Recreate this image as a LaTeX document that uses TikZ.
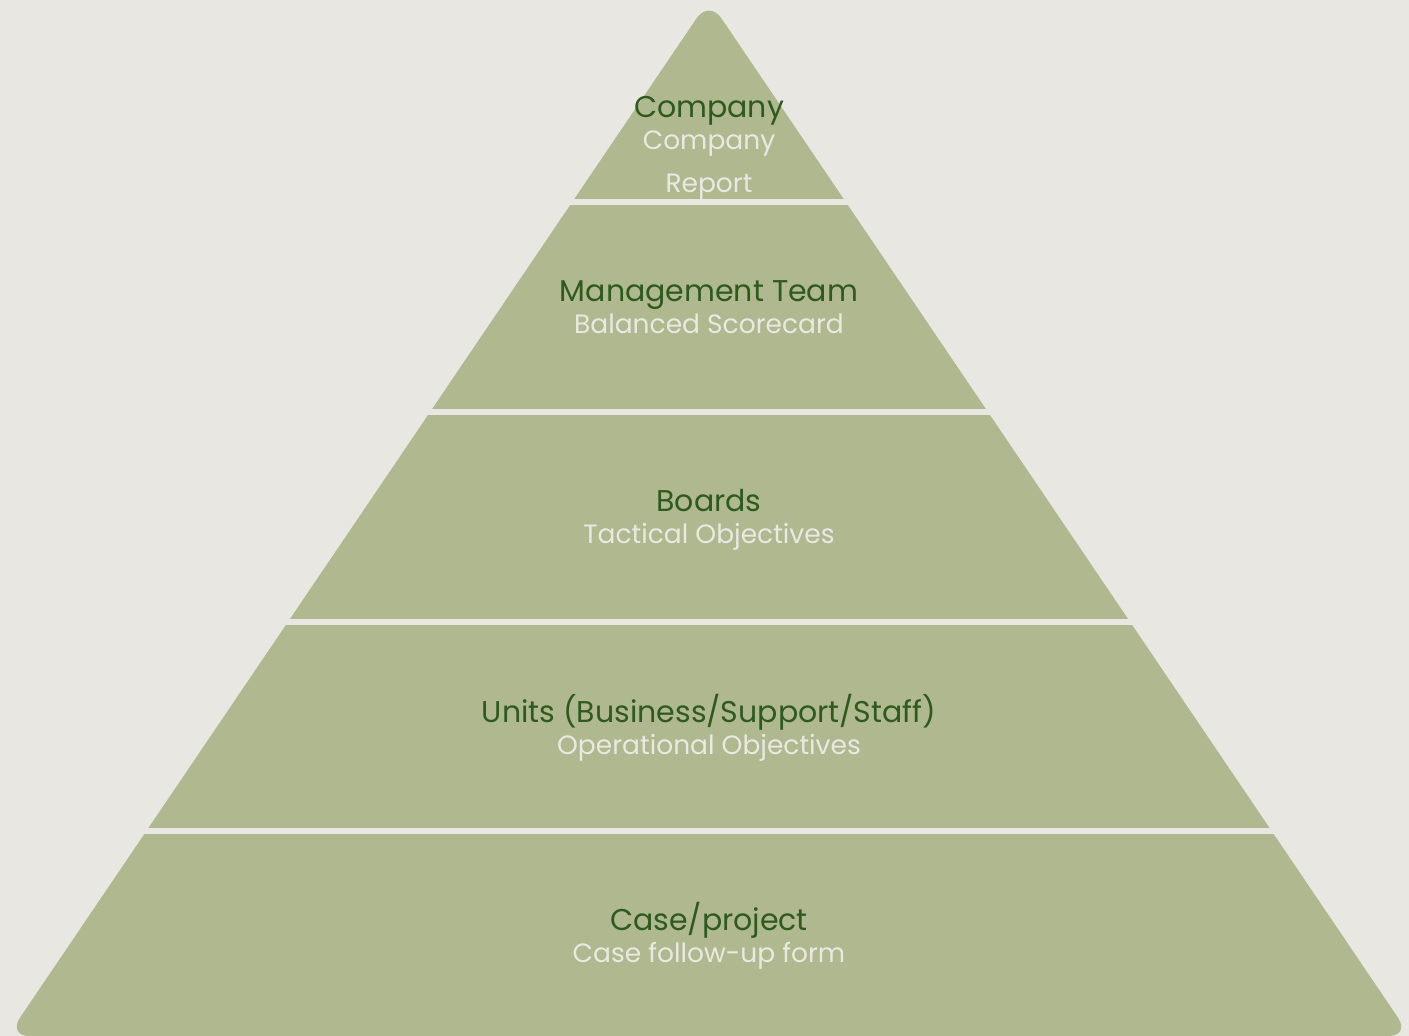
\documentclass[tikz,border=0pt]{standalone}
\usepackage{fontspec}
\setmainfont{Poppins}
\usepackage{tikz}
\usetikzlibrary{positioning}

\definecolor{paper}{HTML}{E8E7E2}
\definecolor{sage}{HTML}{AFB88F}
\definecolor{leaf}{HTML}{2E5A1E}
\definecolor{chalk}{HTML}{E9E9E1}

\begin{document}
\begin{tikzpicture}[
    x=1pt, y=-1pt,
    level/.style={font=\fontsize{30}{34}\selectfont, text=leaf, inner sep=0pt, anchor=base},
    detail/.style={font=\fontsize{26.5}{43}\selectfont, text=chalk, inner sep=0pt, align=center, anchor=base},
    node distance=2pt
]

% Background
\fill[paper] (0,0) rectangle (1409,1036);
\useasboundingbox (0,0) rectangle (1409,1036);

% Pyramid
\fill[sage, rounded corners=22pt] (709,0) -- (1410.4,1036) -- (7.6,1036) -- cycle;

% Gaps between the levels
\foreach \gy in {202,412,622,831}
    \draw[paper, line width=6pt] (0,\gy) -- (1409,\gy);

% Levels (base of a two-line detail is its last line)
\node[level] (company) at (709,117) {Company};
\node[detail] (companyDetail) at ([yshift=-75pt]company.base) {Company\\Report};

\node[level] (management) at (709,301) {Management Team};
\node[detail] (managementDetail) at ([yshift=-32pt]management.base) {Balanced Scorecard};

\node[level] (boards) at (709,511) {Boards};
\node[detail] (boardsDetail) at ([yshift=-32pt]boards.base) {Tactical Objectives};

\node[level] (units) at (709,722) {Units (Business/Support/Staff)};
\node[detail] (unitsDetail) at ([yshift=-32pt]units.base) {Operational Objectives};

\node[level] (cases) at (709,930) {Case/project};
\node[detail] (casesDetail) at ([yshift=-32pt]cases.base) {Case follow-up form};

\end{tikzpicture}
\end{document}
